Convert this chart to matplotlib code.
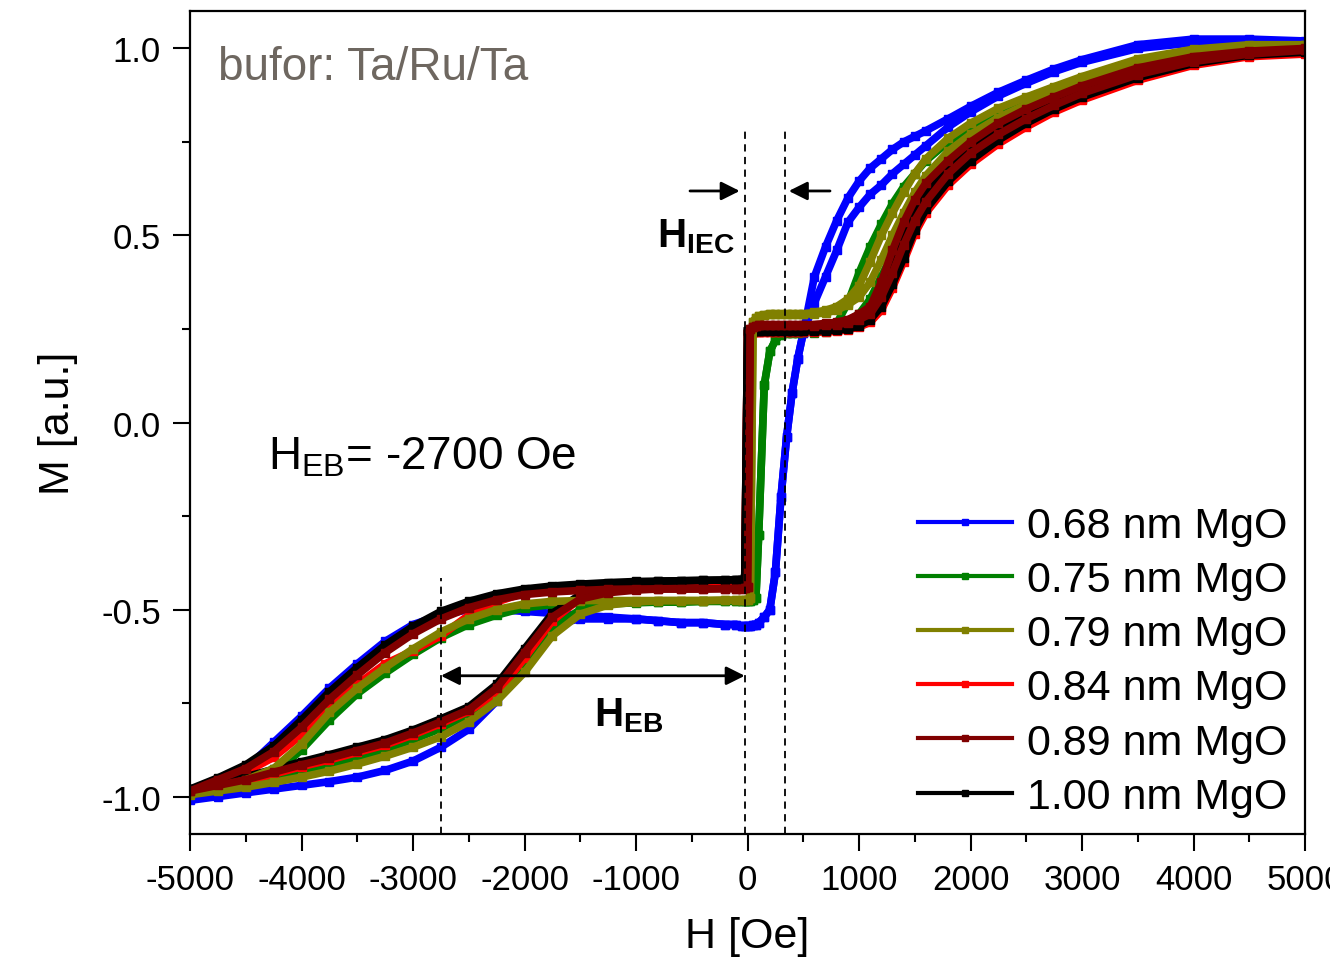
import numpy as np
import matplotlib.pyplot as plt
from matplotlib.lines import Line2D
from matplotlib.ticker import MultipleLocator, FormatStrFormatter

plt.rcParams['font.family'] = ['Liberation Sans', 'DejaVu Sans']
plt.rcParams['mathtext.fontset'] = 'custom'
plt.rcParams['mathtext.rm'] = 'Liberation Sans'
plt.rcParams['mathtext.bf'] = 'Liberation Sans:bold'
plt.rcParams['axes.unicode_minus'] = False

# field grids (Oe): lower loop, step region, upper loop
H_low = [-5000, -4750, -4500, -4250, -4000, -3750, -3500, -3250, -3000,
         -2750, -2500, -2250, -2000, -1750, -1500, -1250, -1000]
H_mid = [-800, -600, -400, -200, -100, -50, -25, 0, 25, 50, 75, 100, 150,
         200, 250, 300, 350, 400, 450, 500]
H_high = [600, 700, 800, 900, 1000, 1100, 1200, 1300, 1400, 1500, 1600, 1800,
          2000, 2250, 2500, 2750, 3000, 3500, 4000, 4500, 5000]

labels = ['0.68 nm MgO', '0.75 nm MgO', '0.79 nm MgO',
          '0.84 nm MgO', '0.89 nm MgO', '1.00 nm MgO']
colors = ['#0000ff', '#008000', '#808000', '#ff0000', '#800000', '#000000']

# lower loop, descending branch
blue_low_dn = [-1.00, -0.965, -0.925, -0.855, -0.785, -0.71, -0.645, -0.585, -0.54, -0.515, -0.50, -0.50, -0.505, -0.51, -0.515, -0.52, -0.525]
green_low_dn = [-0.99, -0.975, -0.96, -0.94, -0.875, -0.795, -0.725, -0.67, -0.62, -0.575, -0.54, -0.515, -0.495, -0.487, -0.483, -0.481, -0.48]
olive_low_dn = [-0.99, -0.975, -0.955, -0.925, -0.86, -0.775, -0.71, -0.655, -0.605, -0.56, -0.525, -0.50, -0.485, -0.478, -0.476, -0.476, -0.476]
red_low_dn = [-0.99, -0.965, -0.935, -0.895, -0.835, -0.765, -0.70, -0.645, -0.61, -0.57, -0.515, -0.48, -0.455, -0.44, -0.437, -0.435, -0.434]
brown_low_dn = [-0.985, -0.955, -0.925, -0.88, -0.815, -0.74, -0.675, -0.615, -0.565, -0.525, -0.495, -0.474, -0.46, -0.453, -0.449, -0.446, -0.445]
black_low_dn = [-0.98, -0.95, -0.915, -0.865, -0.795, -0.72, -0.655, -0.595, -0.545, -0.505, -0.478, -0.458, -0.445, -0.437, -0.432, -0.428, -0.425]

# lower loop, ascending branch
blue_low_up = [-1.01, -1.00, -0.99, -0.98, -0.97, -0.96, -0.948, -0.93, -0.905, -0.868, -0.82, -0.745, -0.62, -0.54, -0.525, -0.525, -0.525]
green_low_up = [-0.99, -0.978, -0.965, -0.95, -0.933, -0.915, -0.895, -0.873, -0.848, -0.818, -0.78, -0.725, -0.64, -0.55, -0.50, -0.485, -0.482]
olive_low_up = [-0.995, -0.985, -0.975, -0.962, -0.948, -0.932, -0.913, -0.892, -0.868, -0.84, -0.80, -0.745, -0.668, -0.57, -0.512, -0.488, -0.48]
red_low_up = [-0.99, -0.975, -0.96, -0.94, -0.92, -0.902, -0.882, -0.862, -0.835, -0.805, -0.772, -0.725, -0.63, -0.53, -0.47, -0.448, -0.44]
brown_low_up = [-0.985, -0.97, -0.955, -0.935, -0.915, -0.897, -0.877, -0.857, -0.83, -0.80, -0.768, -0.71, -0.615, -0.52, -0.472, -0.455, -0.448]
black_low_up = [-0.98, -0.963, -0.947, -0.927, -0.907, -0.888, -0.868, -0.848, -0.822, -0.792, -0.76, -0.70, -0.605, -0.51, -0.46, -0.44, -0.432]

# switching region around H = 0 (both branches)
blue_mid = [-0.53, -0.535, -0.535, -0.54, -0.54, -0.545, -0.545, -0.545, -0.545, -0.54, -0.54, -0.535, -0.52, -0.50, -0.40, -0.20, -0.04, 0.08, 0.17, 0.24]
green_mid = [-0.48, -0.48, -0.478, -0.478, -0.477, -0.477, -0.477, -0.476, -0.476, -0.475, -0.47, -0.30, 0.10, 0.19, 0.22, 0.235, 0.24, 0.24, 0.24, 0.242]
olive_mid = [-0.476, -0.476, -0.476, -0.475, -0.475, -0.475, -0.475, -0.475, -0.47, 0.27, 0.28, 0.285, 0.288, 0.29, 0.29, 0.29, 0.29, 0.29, 0.29, 0.29]
red_mid = [-0.434, -0.433, -0.433, -0.432, -0.432, -0.431, -0.43, 0.24, 0.242, 0.242, 0.242, 0.242, 0.242, 0.242, 0.242, 0.242, 0.242, 0.242, 0.242, 0.242]
brown_mid = [-0.445, -0.445, -0.445, -0.444, -0.444, -0.444, -0.443, -0.44, 0.25, 0.255, 0.258, 0.26, 0.26, 0.26, 0.26, 0.26, 0.26, 0.26, 0.26, 0.26]
black_mid = [-0.424, -0.423, -0.422, -0.421, -0.42, -0.42, -0.415, 0.245, 0.245, 0.245, 0.245, 0.245, 0.245, 0.245, 0.245, 0.245, 0.245, 0.245, 0.245, 0.245]

# upper loop, descending branch
blue_high_dn = [0.39, 0.47, 0.54, 0.60, 0.645, 0.68, 0.705, 0.73, 0.75, 0.765, 0.78, 0.812, 0.845, 0.883, 0.915, 0.945, 0.97, 1.01, 1.025, 1.025, 1.02]
green_high_dn = [0.245, 0.25, 0.265, 0.32, 0.40, 0.47, 0.53, 0.585, 0.63, 0.665, 0.70, 0.75, 0.785, 0.825, 0.857, 0.887, 0.915, 0.96, 0.988, 1.0, 1.0]
olive_high_dn = [0.295, 0.30, 0.31, 0.33, 0.365, 0.43, 0.50, 0.56, 0.615, 0.665, 0.705, 0.76, 0.80, 0.84, 0.87, 0.898, 0.925, 0.972, 0.998, 1.01, 1.01]
red_high_dn = [0.245, 0.245, 0.248, 0.255, 0.265, 0.285, 0.335, 0.405, 0.485, 0.555, 0.605, 0.675, 0.725, 0.775, 0.815, 0.85, 0.88, 0.93, 0.965, 0.983, 0.99]
brown_high_dn = [0.262, 0.265, 0.268, 0.275, 0.29, 0.31, 0.375, 0.46, 0.535, 0.595, 0.64, 0.70, 0.75, 0.80, 0.838, 0.87, 0.90, 0.948, 0.978, 0.993, 1.0]
black_high_dn = [0.25, 0.25, 0.253, 0.26, 0.272, 0.29, 0.34, 0.41, 0.49, 0.56, 0.61, 0.68, 0.73, 0.78, 0.82, 0.855, 0.885, 0.935, 0.97, 0.988, 0.995]

# upper loop, ascending branch
blue_high_up = [0.32, 0.39, 0.46, 0.535, 0.575, 0.61, 0.635, 0.665, 0.69, 0.715, 0.74, 0.79, 0.83, 0.873, 0.907, 0.938, 0.963, 1.0, 1.015, 1.02, 1.015]
green_high_up = [0.24, 0.243, 0.25, 0.265, 0.29, 0.33, 0.39, 0.45, 0.51, 0.56, 0.60, 0.66, 0.71, 0.76, 0.80, 0.835, 0.865, 0.918, 0.958, 0.98, 0.99]
olive_high_up = [0.29, 0.293, 0.30, 0.315, 0.335, 0.375, 0.435, 0.50, 0.56, 0.615, 0.66, 0.725, 0.77, 0.815, 0.85, 0.882, 0.91, 0.96, 0.99, 1.005, 1.01]
red_high_up = [0.242, 0.242, 0.244, 0.248, 0.255, 0.268, 0.30, 0.36, 0.43, 0.505, 0.56, 0.635, 0.69, 0.745, 0.79, 0.83, 0.862, 0.915, 0.955, 0.978, 0.985]
brown_high_up = [0.258, 0.26, 0.262, 0.266, 0.275, 0.29, 0.335, 0.40, 0.475, 0.54, 0.59, 0.665, 0.72, 0.77, 0.812, 0.848, 0.88, 0.93, 0.965, 0.985, 0.995]
black_high_up = [0.245, 0.245, 0.247, 0.25, 0.258, 0.275, 0.31, 0.37, 0.44, 0.515, 0.57, 0.645, 0.70, 0.755, 0.80, 0.838, 0.87, 0.922, 0.96, 0.982, 0.99]

series = [
    (blue_low_dn, blue_low_up, blue_mid, blue_high_dn, blue_high_up),
    (green_low_dn, green_low_up, green_mid, green_high_dn, green_high_up),
    (olive_low_dn, olive_low_up, olive_mid, olive_high_dn, olive_high_up),
    (red_low_dn, red_low_up, red_mid, red_high_dn, red_high_up),
    (brown_low_dn, brown_low_up, brown_mid, brown_high_dn, brown_high_up),
    (black_low_dn, black_low_up, black_mid, black_high_dn, black_high_up),
]
draw_order = [0, 1, 3, 5, 2, 4]

H_all = np.concatenate([H_low, H_mid, H_high])

fig = plt.figure(figsize=(13.3, 9.79), dpi=100)
ax = fig.add_axes([0.1429, 0.1471, 0.8383, 0.8406])

for i in draw_order:
    low_dn, low_up, mid, high_dn, high_up = series[i]
    for low, high in [(low_dn, high_dn), (low_up, high_up)]:
        M = np.concatenate([low, mid, high])
        ax.plot(H_all, M, color=colors[i], lw=5.5, marker='s', ms=6,
                solid_joinstyle='miter')

# guide lines and arrows
dash = (0, (4, 3))
ax.vlines(-2750, -1.1, -0.416, colors='k', lw=1.3, linestyles=[dash])
ax.vlines([-25, 340], -1.1, 0.784, colors='k', lw=1.3, linestyles=[dash])
ax.annotate('', xy=(-2750, -0.677), xytext=(-25, -0.677),
            arrowprops=dict(arrowstyle='<|-|>', color='k', lw=2,
                            mutation_scale=28, shrinkA=0, shrinkB=0))
ax.annotate('', xy=(-70, 0.619), xytext=(-516, 0.619),
            arrowprops=dict(arrowstyle='-|>', color='k', lw=2,
                            mutation_scale=28, shrinkA=0, shrinkB=0))
ax.annotate('', xy=(370, 0.619), xytext=(740, 0.619),
            arrowprops=dict(arrowstyle='-|>', color='k', lw=2,
                            mutation_scale=28, shrinkA=0, shrinkB=0))

ax.text(-4750, 0.95, 'bufor: Ta/Ru/Ta', fontsize=33, color='#6e6760',
        ha='left', va='center')
ax.text(-4300, -0.09, r'H$_{\mathrm{EB}}$= -2700 Oe', fontsize=33,
        ha='left', va='center')
ax.text(-810, 0.50, r'$\mathbf{H}_{\mathbf{IEC}}$', fontsize=29,
        ha='left', va='center')
ax.text(-1380, -0.78, r'$\mathbf{H}_{\mathbf{EB}}$', fontsize=29,
        ha='left', va='center')

ax.set_xlim(-5000, 5000)
ax.set_ylim(-1.1, 1.1)
ax.xaxis.set_major_locator(MultipleLocator(1000))
ax.xaxis.set_minor_locator(MultipleLocator(500))
ax.yaxis.set_major_locator(MultipleLocator(0.5))
ax.yaxis.set_minor_locator(MultipleLocator(0.25))
ax.yaxis.set_major_formatter(FormatStrFormatter('%.1f'))
ax.tick_params(which='major', direction='out', length=12, width=1.5,
               labelsize=25, pad=9)
ax.tick_params(which='minor', direction='out', length=6, width=1.5)
for s in ax.spines.values():
    s.set_linewidth(1.6)

ax.set_xlabel('H [Oe]', fontsize=31, labelpad=14)
ax.set_ylabel('M [a.u.]', fontsize=31, labelpad=17)

handles = [Line2D([], [], color=c, lw=3, marker='s', ms=5) for c in colors]
ax.legend(handles, labels, loc='lower right', bbox_to_anchor=(1.0, 0.0),
          frameon=False, fontsize=31, handlelength=2.2, handletextpad=0.35,
          labelspacing=0.33, borderaxespad=0.2, borderpad=0.2, numpoints=1)

fig.savefig('out.png', dpi=100)
